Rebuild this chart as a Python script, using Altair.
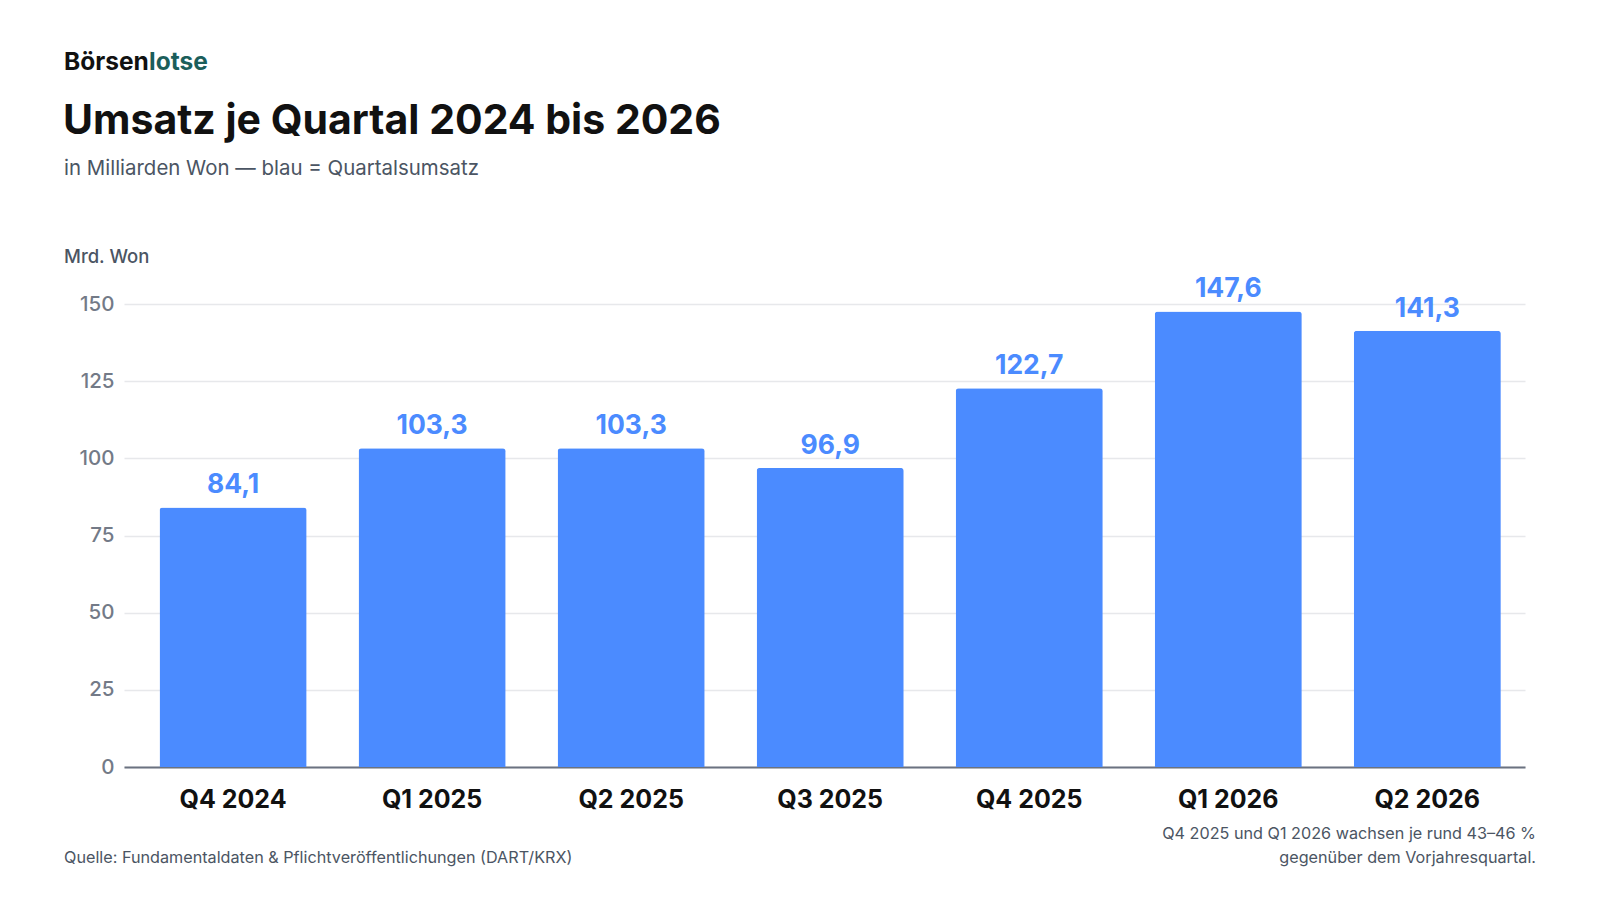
import altair as alt
import pandas as pd

quarters = ["Q4 2024", "Q1 2025", "Q2 2025", "Q3 2025", "Q4 2025", "Q1 2026", "Q2 2026"]
revenue = [84.1, 103.3, 103.3, 96.9, 122.7, 147.6, 141.3]
labels = ["84,1", "103,3", "103,3", "96,9", "122,7", "147,6", "141,3"]
y_ticks = [0, 25, 50, 75, 100, 125, 150]

df = pd.DataFrame({"q": quarters, "v": revenue, "lab": labels})

FONT = "Inter"
BLUE = "#4b8bff"
W, H = 1401, 463

x = alt.X("q:N", sort=quarters, title=None,
          scale=alt.Scale(paddingInner=0.261, paddingOuter=0.15, align=0.595),
          axis=alt.Axis(labelFont=FONT, labelFontSize=25, labelFontWeight="bold",
                        labelColor="#111111", labelAngle=0, labelPadding=20,
                        ticks=False, domain=True, domainColor="#6b7280", domainWidth=2))
y = alt.Y("v:Q", title=None, scale=alt.Scale(domain=[0, 150], nice=False),
          axis=alt.Axis(values=y_ticks, labelFont=FONT, labelFontSize=20.5, labelFontWeight=500,
                        labelColor="#737a87", labelPadding=10, ticks=False, domain=False,
                        gridColor="#e7e8eb", gridWidth=1.5))

bars = alt.Chart(df).mark_bar(color=BLUE, cornerRadiusTopLeft=3, cornerRadiusTopRight=3).encode(x=x, y=y)
vals = alt.Chart(df).mark_text(font=FONT, fontSize=26.5, fontWeight="bold", color=BLUE,
                               baseline="alphabetic", dy=-14).encode(
    x=alt.X("q:N", sort=quarters), y="v:Q", text="lab:N")

def txt(s, xv, yv, size, color, weight="normal", align="left"):
    return alt.Chart(pd.DataFrame({"t": [s]})).mark_text(
        font=FONT, fontSize=size, color=color, fontWeight=weight, align=align,
        baseline="alphabetic").encode(x=alt.value(xv), y=alt.value(yv), text="t:N")

OX, OY = 124, 304
notes = [
    txt("Börsen", 64 - OX, 70 - OY, 24.5, "#111111", "bold"),
    txt("lotse", 149 - OX, 70 - OY, 24.5, "#1b5e5b", "bold"),
    txt("Umsatz je Quartal 2024 bis 2026", 63 - OX, 134 - OY, 41, "#111111", "bold"),
    txt("in Milliarden Won — blau = Quartalsumsatz", 64 - OX, 175 - OY, 20.45, "#4b5563"),
    txt("Mrd. Won", 64 - OX, 263 - OY, 18.5, "#4b5563", 500),
    txt("Quelle: Fundamentaldaten & Pflichtveröffentlichungen (DART/KRX)", 64 - OX, 863 - OY, 16.2, "#4b5563"),
    txt("Q4 2025 und Q1 2026 wachsen je rund 43–46 %", 1536 - OX, 839 - OY, 16.2, "#4b5563", align="right"),
    txt("gegenüber dem Vorjahresquartal.", 1536 - OX, 863 - OY, 16.2, "#4b5563", align="right"),
]

chart = alt.layer(bars, vals, *notes).properties(
    width=W, height=H,
    background="white",
    autosize=alt.AutoSizeParams(type="none"),
    padding={"left": OX - 8, "top": OY - 8, "right": 30, "bottom": 100},
).configure_view(strokeWidth=0, stroke="transparent")

chart.save("out.html", embed_options={"renderer": "svg", "actions": False})
